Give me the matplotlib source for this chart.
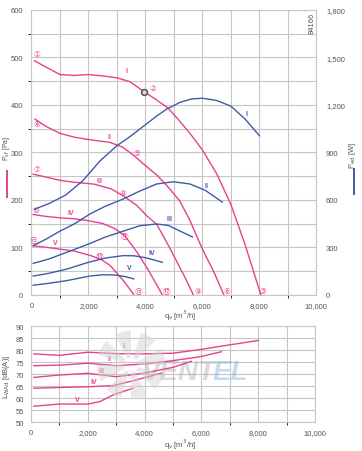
import matplotlib
matplotlib.use("Agg")
import matplotlib.pyplot as plt
from matplotlib.lines import Line2D
from matplotlib.patches import Wedge
from matplotlib.ticker import FuncFormatter, MultipleLocator

# ---------- DATA ----------
# static pressure curves p_sf [Pa] vs q_v [m3/h]
q_p1 = [100, 500, 1000, 1500, 2000, 2500, 3000, 3450, 3950, 4400, 4800, 5200, 5600, 6000, 6500, 7000, 7500, 8050]
p_1 = [493, 480, 464, 462, 464, 461, 457, 449, 428, 410, 393, 366, 337, 305, 255, 190, 105, 0]
q_p2 = [120, 500, 1000, 1500, 2000, 2750, 3200, 3600, 4000, 4400, 4750, 5200, 5550, 6000, 6400, 6750]
p_2 = [370, 355, 340, 332, 327, 321, 311, 293, 272, 252, 230, 198, 158, 96, 48, 0]
q_p3 = [60, 500, 1000, 1500, 2200, 2800, 3250, 3700, 4050, 4400, 4750, 5100, 5400, 5680]
p_3 = [254, 248, 241, 237, 233, 223, 207, 188, 166, 148, 110, 70, 35, 0]
q_p4 = [60, 500, 1000, 1500, 2000, 2500, 2900, 3280, 3700, 4100, 4590]
p_4 = [169, 165, 162, 160, 156, 150, 140, 124, 90, 52, 0]
q_p5 = [60, 500, 1000, 1500, 2100, 2450, 2750, 3050, 3300, 3590]
p_5 = [103, 100, 96, 92, 82, 74, 62, 42, 24, 0]

# power input curves P_ed [W]
q_w1 = [100, 600, 1200, 1800, 2400, 3000, 3500, 3950, 4400, 4750, 5200, 5600, 6000, 6500, 7000, 7500, 8000]
w_1 = [540, 575, 630, 720, 845, 942, 1005, 1068, 1130, 1174, 1215, 1237, 1242, 1228, 1192, 1110, 1005]
q_w2 = [60, 500, 1000, 1500, 2050, 2600, 3220, 3800, 4390, 4980, 5560, 6100, 6700]
w_2 = [310, 350, 402, 447, 510, 560, 605, 655, 700, 714, 700, 660, 585]
q_w3 = [60, 600, 1240, 2000, 2600, 3280, 3800, 4390, 4800, 5240, 5650]
w_3 = [198, 225, 268, 320, 365, 405, 436, 447, 438, 400, 365]
q_w4 = [60, 600, 1240, 2000, 2600, 3220, 3600, 4050, 4590]
w_4 = [118, 135, 162, 205, 232, 247, 246, 232, 205]
q_w5 = [60, 600, 1240, 2050, 2500, 2900, 3300, 3590]
w_5 = [60, 72, 89, 118, 126, 125, 114, 100]

# sound power level L_WAd [dB(A)]
q_l1 = [100, 1000, 2000, 3000, 4000, 5000, 5940, 6960, 8000]
l_1 = [78.5, 77.9, 79.2, 78.6, 78.5, 78.8, 80.3, 82.2, 84.1]
q_l2 = [100, 1000, 2000, 3000, 4000, 5000, 5940, 6700]
l_2 = [73.6, 73.8, 74.6, 73.6, 74.3, 75.7, 77.3, 79.4]
q_l3 = [100, 1000, 2000, 3000, 3940, 5000, 5650]
l_3 = [68.7, 69.7, 70.4, 69.0, 70.4, 72.9, 75.4]
q_l4 = [100, 1000, 2000, 2890, 3590, 4590]
l_4 = [64.2, 64.5, 64.8, 65.3, 67.3, 70.5]
q_l5 = [100, 1000, 2000, 2420, 2890, 3590]
l_5 = [56.7, 57.6, 57.6, 58.6, 61.4, 64.2]

roman = ["I", "II", "III", "IV", "V"]
circled = ["①", "②", "③", "④", "⑤", "⑥", "⑦", "⑧", "⑨", "⑩", "⑪", "⑫", "⑬", "⑭", "⑮"]
circ_q = [204, 4274, 8133, 204, 3712, 6860, 182, 3221, 5832, 158, 3281, 4754, 88, 2404, 3747]
circ_p = [509, 437, 8, 361, 299, 8, 265, 216, 8, 179, 124, 8, 116, 82, 8]
op_q, op_p = 3947, 427

pink_lab_q = [3340, 2754, 2404, 1386, 849]
pink_lab_p = [472, 333, 240, 174, 110]
blue_lab_q = [7551, 6147, 4860, 4218, 3432]
blue_lab_w = [1147, 689, 479, 268, 173]
snd_lab_q = [3250, 2757, 2490, 2218, 1630]
snd_lab_l = [81.9, 76.4, 71.5, 66.9, 59.4]

# ---------- STYLE ----------
PINK = "#e8408f"
BLUE = "#3f5ba6"
GRID = "#c6c6c6"
TXT = "#555555"
plt.rcParams["font.family"] = ["Liberation Sans", "DejaVu Sans", "Noto Sans CJK JP"]
FS = 5.5

thousands = FuncFormatter(lambda v, p: f"{int(v):,}")


def style_axes(a):
    for s in a.spines.values():
        s.set_color(GRID)
        s.set_linewidth(0.8)
    a.tick_params(length=0, labelsize=FS, colors=TXT)
    a.grid(True, which="both", color=GRID, linewidth=0.8)
    a.set_axisbelow(True)


fig = plt.figure(figsize=(3.62, 4.52), dpi=100)

# ---------- TOP: pressure + power ----------
ax = fig.add_axes([0.087, 0.3458, 0.787, 0.6299])
ax.set_xlim(0, 10000)
ax.set_ylim(0, 600)
ax.xaxis.set_major_locator(MultipleLocator(2000))
ax.xaxis.set_minor_locator(MultipleLocator(1000))
ax.yaxis.set_major_locator(MultipleLocator(100))
ax.yaxis.set_minor_locator(MultipleLocator(50))
ax.xaxis.set_major_formatter(thousands)
style_axes(ax)
ax.tick_params(axis="x", pad=5)
ax.tick_params(axis="y", pad=6)

ax2 = ax.twinx()
ax2.set_ylim(0, 1800)
ax2.yaxis.set_major_locator(MultipleLocator(300))
ax2.yaxis.set_major_formatter(thousands)
for s in ax2.spines.values():
    s.set_visible(False)
ax2.tick_params(length=0, labelsize=FS, colors=TXT, pad=7)

pres = [(q_p1, p_1), (q_p2, p_2), (q_p3, p_3), (q_p4, p_4), (q_p5, p_5)]
powr = [(q_w1, w_1), (q_w2, w_2), (q_w3, w_3), (q_w4, w_4), (q_w5, w_5)]
for (qx, py), (qw, pw) in zip(pres, powr):
    ax.plot(qx, py, color=PINK, lw=1.0, zorder=3)
    ax2.plot(qw, pw, color=BLUE, lw=1.0, zorder=3)

for lab, x, y in zip(roman, pink_lab_q, pink_lab_p):
    ax.text(x, y, lab, color=PINK, fontsize=5, fontweight="bold", ha="center", va="center")
for lab, x, y in zip(roman, blue_lab_q, blue_lab_w):
    ax2.text(x, y, lab, color=BLUE, fontsize=5, fontweight="bold", ha="center", va="center")
for lab, x, y in zip(circled, circ_q, circ_p):
    ax.text(x, y, lab, color=PINK, fontsize=5.5, ha="center", va="center",
            family=["DejaVu Sans", "Noto Sans CJK JP"])
ax.scatter([op_q], [op_p], s=22, color="#777777", edgecolor="#444444", linewidth=0.6, zorder=5)
ax.scatter([op_q], [op_p], s=3, color="#dddddd", zorder=6)

fig.text(312 / 362, 1 - 13 / 452, "84166", rotation=90, fontsize=5.5,
         color=TXT, ha="center", va="top")

fig.text(180 / 362, 1 - 316 / 452, r"q$_\mathrm{v}$ [m$^3$/h]", fontsize=FS, color=TXT,
         ha="center", va="center")
fig.text(6 / 362, 1 - 148 / 452, r"P$_\mathrm{sf}$ [Pa]", fontsize=5, color=TXT,
         rotation=90, ha="center", va="center")
fig.text(352 / 362, 1 - 155 / 452, r"P$_\mathrm{ed}$ [W]", fontsize=FS, color=TXT,
         rotation=90, ha="center", va="center")
fig.add_artist(Line2D([7 / 362, 7 / 362], [1 - 172 / 452, 1 - 198 / 452], color=PINK, lw=1.4))
fig.add_artist(Line2D([354 / 362, 354 / 362], [1 - 170 / 452, 1 - 195 / 452], color=BLUE, lw=1.4))

# ---------- BOTTOM: sound power ----------
bx = fig.add_axes([0.0856, 0.0635, 0.785, 0.2124])
bx.set_xlim(0, 10000)
bx.set_ylim(50, 90)
bx.xaxis.set_major_locator(MultipleLocator(2000))
bx.xaxis.set_minor_locator(MultipleLocator(1000))
bx.yaxis.set_major_locator(MultipleLocator(5))
bx.xaxis.set_major_formatter(thousands)
style_axes(bx)
bx.tick_params(axis="x", pad=5)
bx.tick_params(axis="y", pad=5)

# faint watermark logo: fan drawn in its own square axes, then the name
logo = fig.add_axes([95 / 362, 1 - 402 / 452, 72 / 362, 72 / 452])
logo.set_xlim(-1, 1)
logo.set_ylim(-1, 1)
logo.set_aspect("equal")
logo.axis("off")
logo.patch.set_alpha(0)
for ang in range(0, 360, 45):
    logo.add_patch(Wedge((0, 0), 0.95, ang, ang + 28, width=0.75, color="#d4d4d4", alpha=0.5, lw=0))
bx.text(3900, 71, "VENT", fontsize=20, fontweight="bold", fontstyle="italic",
        color="#b0b0b0", alpha=0.45, ha="left", va="center", zorder=1)
bx.text(6400, 71, "EL", fontsize=20, fontweight="bold", fontstyle="italic",
        color="#7fb3de", alpha=0.45, ha="left", va="center", zorder=1)

snd = [(q_l1, l_1), (q_l2, l_2), (q_l3, l_3), (q_l4, l_4), (q_l5, l_5)]
for qx, lx in snd:
    bx.plot(qx, lx, color=PINK, lw=1.0, zorder=3)
for lab, x, y in zip(roman, snd_lab_q, snd_lab_l):
    bx.text(x, y, lab, color=PINK, fontsize=5, fontweight="bold", ha="center", va="center")

fig.text(180 / 362, 1 - 445 / 452, r"q$_\mathrm{v}$ [m$^3$/h]", fontsize=FS, color=TXT,
         ha="center", va="center")
fig.text(7 / 362, 1 - 377 / 452, r"L$_\mathrm{WAd}$ [dB(A)]", fontsize=FS, color=TXT,
         rotation=90, ha="center", va="center")

fig.savefig("out.png", dpi=100)
